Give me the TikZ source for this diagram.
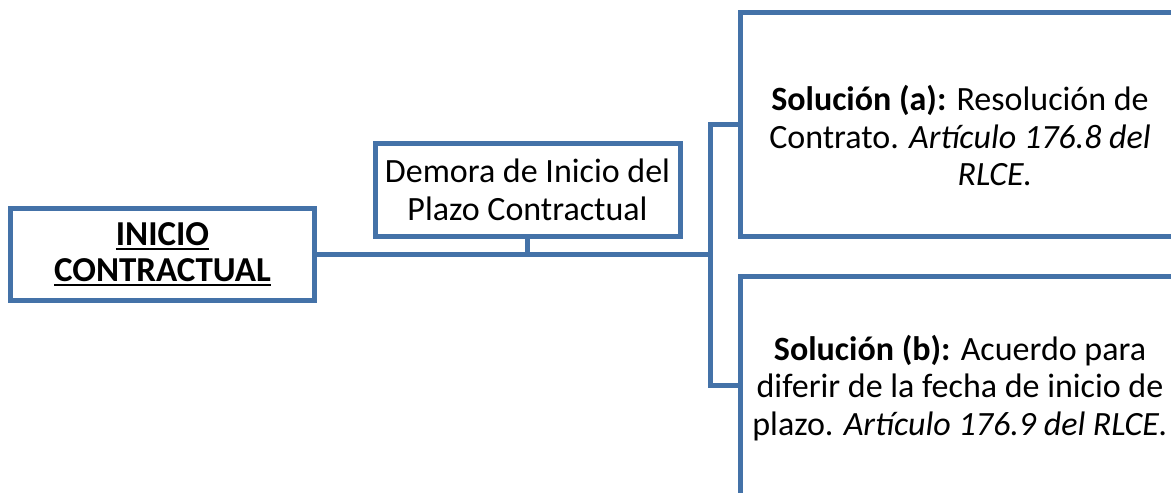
\documentclass[tikz,border=0pt]{standalone}
\usepackage{fontspec}
\setmainfont{Carlito}
\definecolor{bl}{RGB}{68,114,168}
\newcommand{\ulbf}[1]{\setbox0\hbox{#1}\rlap{\rule[-5pt]{\wd0}{2.5pt}}\box0}
\begin{document}
\begin{tikzpicture}[x=1pt,y=-1pt,
  box/.style={draw=bl,line width=5pt,rectangle,inner sep=0pt,outer sep=0pt,fill=white},
  conn/.style={draw=bl,line width=5pt},
  txt/.style={align=center,inner sep=0pt,font=\fontsize{34}{37.5}\selectfont}]
\useasboundingbox (0,0) rectangle (1171,493);
\clip (0,0) rectangle (1171,493);
\node[box,minimum width=304pt,minimum height=92pt] (ini) at (162.5,254.5) {};
\node[box,minimum width=305pt,minimum height=92.5pt] (dem) at (527.5,189.75) {};
\node[box,minimum width=439pt,minimum height=223.5pt] (a) at (960,124.25) {};
\node[box,minimum width=439pt,minimum height=240pt,anchor=north] (b) at (960,276.5) {};
\node[txt,font=\fontsize{35}{36}\selectfont\bfseries] (tini) at (ini.center) {\ulbf{INICIO}\\\ulbf{CONTRACTUAL}};
\node[txt] (tdem) at (dem.center) {Demora de Inicio del\\Plazo Contractual};
\node[txt] (ta) at (960,136) {\textbf{Solución (a):} Resolución de\\Contrato. \textit{Artículo 176.8 del}\\\hspace*{70pt}\textit{RLCE.}};
\node[txt] (tb) at (960,388) {\textbf{Solución (b):} Acuerdo para\\diferir de la fecha de inicio de\\plazo. \textit{Artículo 176.9 del RLCE.}};
\coordinate (j) at (710.5,254.5);
\coordinate (sb) at ([yshift=-108.5pt]b.north west);
\draw[conn] (ini.east) -- (j);
\draw[conn] (dem.south) -- (dem.south |- j);
\draw[conn] (a.west) -| (j) |- (sb);
\end{tikzpicture}
\end{document}
